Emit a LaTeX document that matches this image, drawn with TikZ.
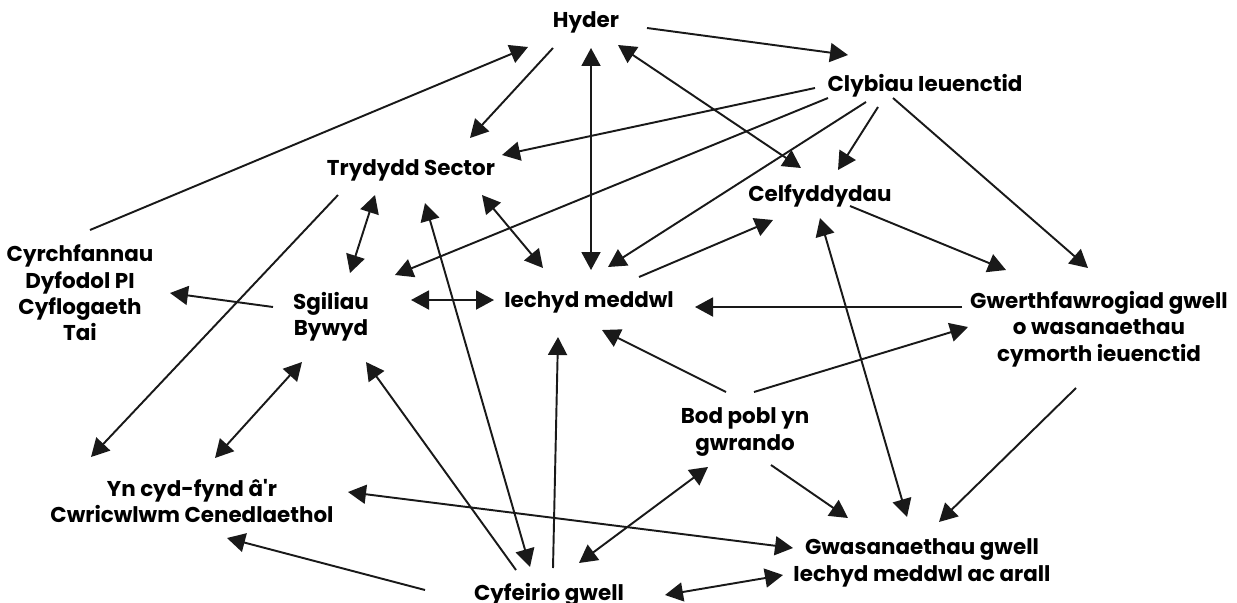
\documentclass[tikz,border=0pt]{standalone}
\usepackage{fontspec}
\setmainfont{Poppins}[Ligatures=TeXOff]
\usetikzlibrary{arrows.meta,calc}

\begin{document}
\begin{tikzpicture}[x=0.02cm,y=-0.02cm,>={Triangle[length=0.36cm,width=0.38cm]}]

\tikzstyle{word}=[font=\bfseries\fontsize{12.2}{15}\selectfont,align=center,inner sep=0pt]
\tikzstyle{link}=[line width=1.1pt,black!90]

\useasboundingbox (0,0) rectangle (1237,602);

\node[word] (hyder)  at (586,22)  {Hyder} ;
\node[word] (clyb)   at (925,86)  {Clybiau Ieuenctid} ;
\node[word] (tryd)   at (411,170) {Trydydd Sector} ;
\node[word] (celf)   at (820,196) {Celfyddydau} ;
\node[word] (cyrch)  at (80,293)  {Cyrchfannau\\Dyfodol PI\\Cyflogaeth\\Tai} ;
\node[word] (sgil)   at (331,317) {Sgiliau\\Bywyd} ;
\node[word] (iech)   at (589,302) {Iechyd meddwl} ;
\node[word] (gwerth) at (1099,329) {Gwerthfawrogiad gwell\\o wasanaethau\\cymorth ieuenctid} ;
\node[word] (bod)    at (745,432) {Bod pobl yn\\gwrando} ;
\node[word] (cwric)  at (192,501) {Yn cyd-fynd â'r\\Cwricwlwm Cenedlaethol} ;
\node[word] (gwas)   at (922,563) {Gwasanaethau gwell\\Iechyd meddwl ac arall} ;
\node[word] (cyfe)   at (549,595) {Cyfeirio gwell} ;

% from Hyder
\draw[link,->]  ($(cyrch)+(10,-63)$)  -- ($(hyder)+(-58,25)$);
\draw[link,->]  ($(hyder)+(-33,26)$)  -- ($(tryd)+(59,-32)$);
\draw[link,<->] ($(hyder)+(5,26)$)    -- ($(iech)+(2,-32)$);
\draw[link,->]  ($(hyder)+(61,6)$)    -- ($(clyb)+(-77,-31)$);
\draw[link,<->] ($(hyder)+(32,23)$)   -- ($(celf)+(-19,-28)$);

% from Clybiau
\draw[link,->]  ($(clyb)+(-110,2)$)   -- ($(tryd)+(91,-15)$);
\draw[link,->]  ($(clyb)+(-97,12)$)   -- ($(sgil)+(64,-42)$);
\draw[link,->]  ($(clyb)+(-59,16)$)   -- ($(iech)+(19,-35)$);
\draw[link,->]  ($(clyb)+(-47,21)$)   -- ($(celf)+(18,-26)$);
\draw[link,->]  ($(clyb)+(-32,12)$)   -- ($(gwerth)+(-11,-61)$);

% Celfyddydau
\draw[link,->]  ($(celf)+(30,10)$)    -- ($(gwerth)+(-93,-59)$);
\draw[link,->]  ($(iech)+(50,-25)$)   -- ($(celf)+(-47,24)$);
\draw[link,<->] ($(celf)+(0,22)$)     -- ($(gwas)+(-15,-46)$);

% Trydydd Sector
\draw[link,<->] ($(tryd)+(-36,25)$)   -- ($(sgil)+(19,-44)$);
\draw[link,<->] ($(tryd)+(71,25)$)    -- ($(iech)+(-46,-34)$);
\draw[link,->]  ($(tryd)+(-73,25)$)   -- ($(cwric)+(-101,-44)$);
\draw[link,<->] ($(tryd)+(14,33)$)    -- ($(cyfe)+(-19,-28)$);

% Sgiliau Bywyd
\draw[link,->]  ($(sgil)+(-58,-10)$)  -- ($(cyrch)+(90,0)$);
\draw[link,<->] ($(sgil)+(80,-17)$)   -- ($(iech)+(-95,-2)$);
\draw[link,<->] ($(sgil)+(-29,45)$)   -- ($(cwric)+(23,-43)$);

% from Cyfeirio gwell
\draw[link,->]  ($(cyfe)+(-33,-25)$)  -- ($(sgil)+(35,45)$);
\draw[link,->]  ($(cyfe)+(4,-27)$)    -- ($(iech)+(-31,35)$);
\draw[link,->]  ($(cyfe)+(-124,-5)$)  -- ($(cwric)+(35,37)$);
\draw[link,<->] ($(cyfe)+(30,-32)$)   -- ($(bod)+(-37,35)$);
\draw[link,<->] ($(cyfe)+(116,0)$)    -- ($(gwas)+(-139,12)$);
\draw[link,<->] ($(gwas)+(-129,-15)$) -- ($(cwric)+(156,-9)$);

% Bod pobl yn gwrando
\draw[link,->]  ($(bod)+(-19,-40)$)   -- ($(iech)+(13,28)$);
\draw[link,->]  ($(bod)+(9,-40)$)     -- ($(gwerth)+(-131,-2)$);
\draw[link,->]  ($(bod)+(26,33)$)     -- ($(gwas)+(-74,-45)$);

% Gwerthfawrogiad
\draw[link,->]  ($(gwerth)+(-137,-22)$) -- ($(iech)+(106,5)$);
\draw[link,->]  ($(gwerth)+(-23,59)$)   -- ($(gwas)+(17,-41)$);

\end{tikzpicture}
\end{document}
